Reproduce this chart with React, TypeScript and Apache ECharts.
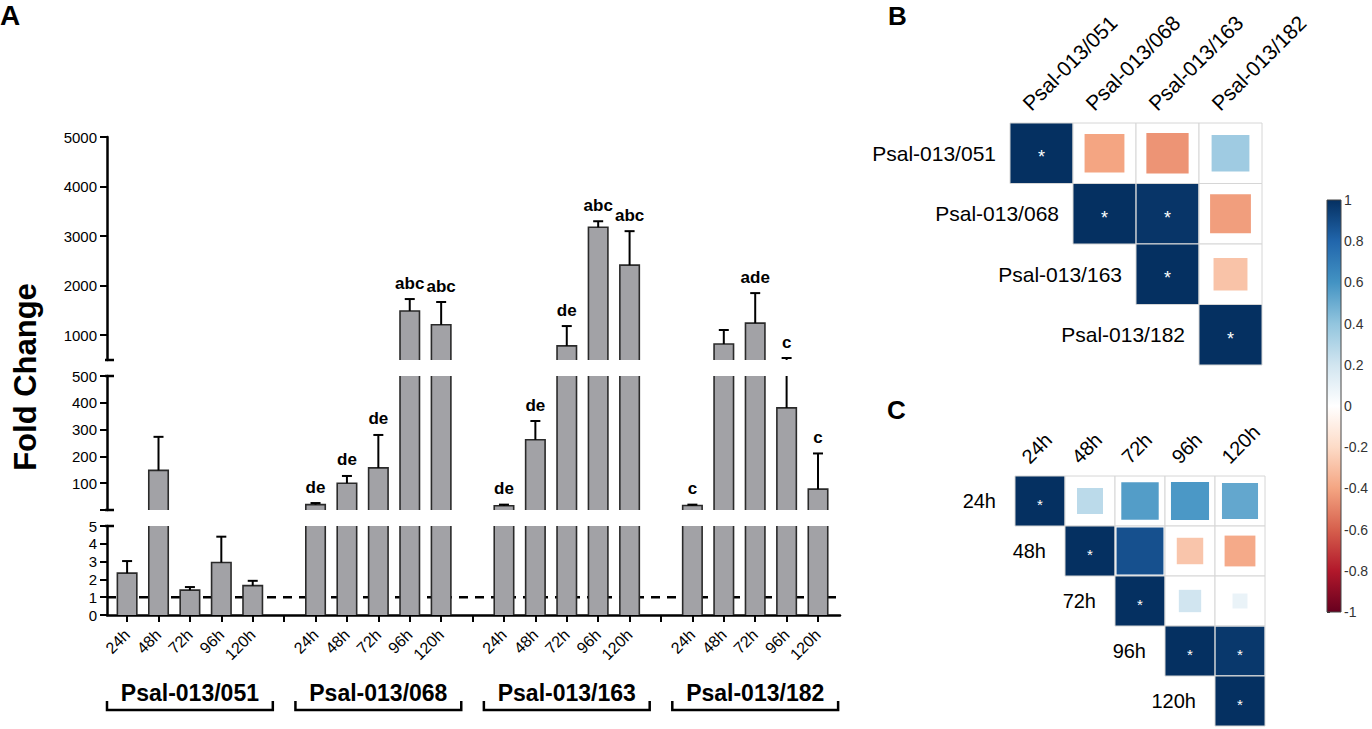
import React, { useEffect, useRef } from "react";
import * as echarts from "echarts";

// ---------------- data ----------------
const TIMES = ["24h", "48h", "72h", "96h", "120h"];
const GENES = ["Psal-013/051", "Psal-013/068", "Psal-013/163", "Psal-013/182"];

const MEAN_051 = [2.35, 148, 1.4, 2.95, 1.65];
const SD_051 = [0.68, 125, 0.17, 1.45, 0.27];
const MEAN_068 = [20, 100, 157, 1490, 1210];
const SD_068 = [6, 27, 123, 240, 460];
const MEAN_163 = [16, 262, 785, 3180, 2415];
const SD_163 = [4, 70, 400, 120, 685];
const MEAN_182 = [17, 822, 1245, 381, 78];
const SD_182 = [3, 283, 605, 159, 133];

const LETTERS_051 = ["", "", "", "", ""];
const LETTERS_068 = ["de", "de", "de", "abc", "abc"];
const LETTERS_163 = ["de", "de", "de", "abc", "abc"];
const LETTERS_182 = ["c", "", "ade", "c", "c"];

const Y_TOP_TICKS = [1000, 2000, 3000, 4000, 5000];
const REFERENCE_LEVEL = 1;

const CORR_B = [
  [1, -0.4, -0.45, 0.36],
  [null, 1, 0.98, -0.42],
  [null, null, 1, -0.29],
  [null, null, null, 1],
];
const SIG_B = [
  [1, 0, 0, 0],
  [0, 1, 1, 0],
  [0, 0, 1, 0],
  [0, 0, 0, 1],
];
const CORR_C = [
  [1, 0.27, 0.56, 0.58, 0.52],
  [null, 1, 0.88, -0.28, -0.38],
  [null, null, 1, 0.2, 0.09],
  [null, null, null, 1, 0.97],
  [null, null, null, null, 1],
];
const SIG_C = [
  [1, 0, 0, 0, 0],
  [0, 1, 0, 0, 0],
  [0, 0, 1, 0, 0],
  [0, 0, 0, 1, 1],
  [0, 0, 0, 0, 1],
];
const RDBU = [
  "#67001F", "#B2182B", "#D6604D", "#F4A582", "#FDDBC7", "#FFFFFF",
  "#D1E5F0", "#92C5DE", "#4393C3", "#2166AC", "#053061",
];

// ---------------- layout / style ----------------
const FONT = '"Liberation Sans", Arial, Helvetica, sans-serif';
const AX_LEFT = 107;
const AX_WIDTH = 733;
const X_MIN = -0.64;
const X_MAX = 22.7;
// drawFrom: values below it belong to the lower segment
const SEGS = [
  { min: 500, max: 5000, drawFrom: 500, top: 137, height: 223 },
  { min: 0, max: 500, drawFrom: 5, top: 376, height: 134 },
  { min: 0, max: 5, drawFrom: 0, top: 526, height: 89 },
];
const BAR_FILL = "#a2a2a6";
const BAR_STROKE = "#2a2a2a";

const GROUP_STEP = TIMES.length + 1;
const BAR_DATA: number[][] = [];
const MEANS = [MEAN_051, MEAN_068, MEAN_163, MEAN_182];
const SDS = [SD_051, SD_068, SD_163, SD_182];
const LETTERS = [LETTERS_051, LETTERS_068, LETTERS_163, LETTERS_182];
MEANS.forEach((m, g) =>
  m.forEach((v, i) => BAR_DATA.push([g * GROUP_STEP + i, v, v + SDS[g][i], g, i]))
);
const BAR_X = BAR_DATA.map((d) => d[0]);
const SLOT_TICKS = Array.from({ length: GENES.length * GROUP_STEP - 1 }, (_, k) => k);

function hexToRgb(h: string) {
  const n = parseInt(h.slice(1), 16);
  return [(n >> 16) & 255, (n >> 8) & 255, n & 255];
}
function corrColor(v: number) {
  const t = ((Math.max(-1, Math.min(1, v)) + 1) / 2) * (RDBU.length - 1);
  const i = Math.min(Math.floor(t), RDBU.length - 2);
  const f = t - i;
  const a = hexToRgb(RDBU[i]);
  const b = hexToRgb(RDBU[i + 1]);
  return `rgb(${a.map((x, k) => Math.round(x + (b[k] - x) * f)).join(",")})`;
}
function corrData(mat: (number | null)[][], sig: number[][]) {
  const out: number[][] = [];
  mat.forEach((row, r) =>
    row.forEach((v, c) => {
      if (v !== null && c >= r) out.push([c, r, v, sig[r][c]]);
    })
  );
  return out;
}

function makeBarRender(s: number) {
  const seg = SEGS[s];
  return (params: any, api: any) => {
    const x = api.value(0);
    const v = api.value(1);
    const e = api.value(2);
    const g = api.value(3);
    const i = api.value(4);
    const children: any[] = [];
    const slot = api.size([1, 0])[0];
    const bw = slot * 0.62;
    const base = api.coord([x, seg.min]);
    const cx = base[0];
    const yBase = base[1];
    if (v > seg.drawFrom) {
      const clipped = v > seg.max;
      const yTop = api.coord([x, Math.min(v, seg.max)])[1];
      const L = cx - bw / 2;
      const R = cx + bw / 2;
      children.push({
        type: "rect",
        shape: { x: L, y: yTop, width: bw, height: yBase - yTop },
        style: { fill: BAR_FILL },
      });
      const st = { stroke: BAR_STROKE, lineWidth: 1.6, fill: "none" };
      if (clipped) {
        children.push({ type: "line", shape: { x1: L, y1: yTop, x2: L, y2: yBase }, style: st });
        children.push({ type: "line", shape: { x1: R, y1: yTop, x2: R, y2: yBase }, style: st });
      } else {
        children.push({
          type: "polyline",
          shape: { points: [[L, yBase], [L, yTop], [R, yTop], [R, yBase]] },
          style: st,
        });
      }
    }
    if (e > seg.drawFrom && v < seg.max) {
      const y1 = api.coord([x, Math.max(v, seg.min)])[1];
      const y2 = api.coord([x, Math.min(e, seg.max)])[1];
      const es = { stroke: "#000", lineWidth: 2 };
      children.push({ type: "line", shape: { x1: cx, y1, x2: cx, y2 }, style: es });
      if (e <= seg.max) {
        children.push({ type: "line", shape: { x1: cx - 5, y1: y2, x2: cx + 5, y2 }, style: es });
        const txt = LETTERS[g][i];
        if (txt) {
          children.push({
            type: "text",
            x: cx,
            y: y2 - 16,
            style: {
              text: txt,
              fill: "#000",
              fontSize: 17,
              fontWeight: "bold",
              fontFamily: FONT,
              align: "center",
              verticalAlign: "middle",
            },
          });
        }
      }
    }
    return { type: "group", children };
  };
}

function makeCorrRender(labels: string[], fs: number, starFs: number, rowGap: number) {
  return (params: any, api: any) => {
    const c = api.value(0);
    const r = api.value(1);
    const val = api.value(2);
    const sig = api.value(3);
    const p = api.coord([c, r]);
    const sz = api.size([1, 1]);
    const w = sz[0];
    const h = sz[1];
    const k = Math.sqrt(Math.abs(val));
    const children: any[] = [
      { type: "rect", shape: { x: p[0] - w / 2, y: p[1] - h / 2, width: w, height: h }, style: { fill: "#fff" } },
      {
        type: "rect",
        shape: { x: p[0] - (k * w) / 2, y: p[1] - (k * h) / 2, width: k * w, height: k * h },
        style: { fill: corrColor(val) },
      },
      {
        type: "rect",
        shape: { x: p[0] - w / 2, y: p[1] - h / 2, width: w, height: h },
        style: { fill: "none", stroke: "#d6d6d6", lineWidth: 1 },
      },
    ];
    if (sig) {
      children.push({
        type: "text",
        x: p[0],
        y: p[1] + starFs * 0.22,
        style: { text: "*", fill: "#fff", fontSize: starFs, fontFamily: FONT, align: "center", verticalAlign: "middle" },
      });
    }
    if (c === r) {
      children.push({
        type: "text",
        x: p[0] - w / 2 - rowGap,
        y: p[1],
        style: { text: labels[r], fill: "#000", fontSize: fs, fontFamily: FONT, align: "right", verticalAlign: "middle" },
      });
    }
    if (r === 0) {
      children.push({
        type: "text",
        x: p[0] - 8,
        y: p[1] - h / 2 - 9,
        rotation: Math.PI / 4,
        style: { text: labels[c], fill: "#000", fontSize: fs, fontFamily: FONT, align: "left", verticalAlign: "bottom" },
      });
    }
    return { type: "group", children };
  };
}

export default function App() {
  const ref = useRef<HTMLDivElement>(null);
  useEffect(() => {
    document.body.style.margin = "0";
    if (!ref.current) return;
    const chart = echarts.init(ref.current, undefined, { renderer: "svg" });

    const axLine = { show: true, onZero: false, lineStyle: { color: "#000", width: 2.5 } };
    const axTick = { show: true, length: 7, lineStyle: { color: "#000", width: 2 } };
    const axLabel = { fontSize: 15, color: "#000", margin: 10, fontFamily: FONT, formatter: (v: number) => String(v) };

    const grids: any[] = SEGS.map((s) => ({
      left: AX_LEFT, top: s.top, width: AX_WIDTH, height: s.height, containLabel: false, outerBoundsMode: "none",
    }));
    grids.push({ left: 1010, top: 123, width: 252, height: 242, outerBoundsMode: "none" });
    grids.push({ left: 1015, top: 476, width: 250, height: 250, outerBoundsMode: "none" });
    grids.push({ left: 1327, top: 200, width: 14, height: 412, outerBoundsMode: "none" });

    const xBase = { type: "value", min: X_MIN, max: X_MAX, splitLine: { show: false } };

    const caps: any[] = [];
    [SEGS[0].top + SEGS[0].height, SEGS[1].top, SEGS[1].top + SEGS[1].height, SEGS[2].top].forEach((y) =>
      caps.push({
        type: "line",
        shape: { x1: AX_LEFT - 2, y1: y, x2: AX_LEFT + 7, y2: y },
        style: { stroke: "#000", lineWidth: 2.5 },
      })
    );

    const axisBottom = SEGS[2].top + SEGS[2].height;

    const option: any = {
      animation: false,
      backgroundColor: "#fff",
      grid: grids,
      xAxis: [
        { ...xBase, gridIndex: 0, show: false },
        { ...xBase, gridIndex: 1, show: false },
        {
          ...xBase,
          gridIndex: 2,
          axisLine: axLine,
          axisTick: { ...axTick, customValues: SLOT_TICKS },
          axisLabel: {
            customValues: BAR_X,
            rotate: 45,
            fontSize: 16,
            color: "#000",
            margin: 17,
            fontFamily: FONT,
            formatter: (v: number) => TIMES[Math.round(v) % GROUP_STEP] || "",
          },
        },
        { type: "category", gridIndex: 3, data: GENES, show: false },
        { type: "category", gridIndex: 4, data: TIMES, show: false },
        { type: "value", gridIndex: 5, min: 0, max: 1, show: false },
      ],
      yAxis: [
        {
          type: "value", gridIndex: 0, min: SEGS[0].min, max: SEGS[0].max,
          axisLine: axLine,
          axisTick: { ...axTick, customValues: Y_TOP_TICKS },
          axisLabel: { ...axLabel, customValues: Y_TOP_TICKS },
          splitLine: { show: false },
        },
        {
          type: "value", gridIndex: 1, min: SEGS[1].min, max: SEGS[1].max, interval: 100,
          axisLine: axLine, axisTick: axTick,
          axisLabel: { ...axLabel, formatter: (v: number) => (v === 0 ? "" : String(v)) },
          splitLine: { show: false },
        },
        {
          type: "value", gridIndex: 2, min: SEGS[2].min, max: SEGS[2].max, interval: 1,
          axisLine: axLine, axisTick: axTick, axisLabel: axLabel, splitLine: { show: false },
        },
        { type: "category", gridIndex: 3, data: GENES, inverse: true, show: false },
        { type: "category", gridIndex: 4, data: TIMES, inverse: true, show: false },
        {
          type: "value", gridIndex: 5, min: -1, max: 1, interval: 0.2, position: "right",
          axisLine: { show: false },
          axisTick: { show: true, length: 3, lineStyle: { color: "#333", width: 1 } },
          axisLabel: {
            fontSize: 14, color: "#333", margin: 3, fontFamily: FONT,
            formatter: (v: number) => String(Math.round(v * 10) / 10),
          },
          splitLine: { show: false },
        },
      ],
      series: [
        {
          type: "line", xAxisIndex: 2, yAxisIndex: 2, silent: true, z: 1,
          data: [[X_MIN, REFERENCE_LEVEL], [X_MAX, REFERENCE_LEVEL]],
          symbol: "none",
          lineStyle: { type: [9, 7], width: 2.5, color: "#000" },
        },
        ...SEGS.map((_, s) => ({
          type: "custom", xAxisIndex: s, yAxisIndex: s, silent: true, z: 3,
          data: BAR_DATA, renderItem: makeBarRender(s),
        })),
        {
          type: "custom", xAxisIndex: 2, yAxisIndex: 2, silent: true, z: 3,
          data: GENES.map((_, g) => [g * GROUP_STEP, g * GROUP_STEP + TIMES.length - 1, g]),
          renderItem: (params: any, api: any) => {
            const a = api.coord([api.value(0) + X_MIN, 0])[0];
            const b = api.coord([api.value(1) - X_MIN, 0])[0];
            const yb = axisBottom;
            return {
              type: "group",
              children: [
                {
                  type: "polyline",
                  shape: { points: [[a, yb + 86], [a, yb + 95], [b, yb + 95], [b, yb + 86]] },
                  style: { stroke: "#000", lineWidth: 2.5, fill: "none" },
                },
                {
                  type: "text",
                  x: (a + b) / 2,
                  y: yb + 78,
                  style: {
                    text: GENES[api.value(2)], fill: "#000", fontSize: 23, fontWeight: "bold",
                    fontFamily: FONT, align: "center", verticalAlign: "middle",
                  },
                },
              ],
            };
          },
        },
        {
          type: "custom", xAxisIndex: 3, yAxisIndex: 3, silent: true,
          data: corrData(CORR_B, SIG_B), renderItem: makeCorrRender(GENES, 21, 18, 14),
        },
        {
          type: "custom", xAxisIndex: 4, yAxisIndex: 4, silent: true,
          data: corrData(CORR_C, SIG_C), renderItem: makeCorrRender(TIMES, 20, 15, 19),
        },
        {
          type: "custom", xAxisIndex: 5, yAxisIndex: 5, silent: true,
          data: [[0.5, 0]],
          renderItem: (params: any) => {
            const cs = params.coordSys;
            const stops = RDBU.map((c, k) => ({ offset: 1 - k / (RDBU.length - 1), color: c })).reverse();
            return {
              type: "rect",
              shape: { x: cs.x, y: cs.y, width: cs.width, height: cs.height },
              style: {
                fill: new echarts.graphic.LinearGradient(0, 0, 0, 1, stops),
                stroke: "#444",
                lineWidth: 1,
              },
            };
          },
        },
      ],
      graphic: [
        ...caps,
        {
          type: "text", x: 25, y: 377, rotation: Math.PI / 2,
          style: { text: "Fold Change", fill: "#000", fontSize: 31, fontWeight: "bold", fontFamily: FONT, align: "center", verticalAlign: "middle" },
        },
        { type: "text", x: 0, y: 15, style: { text: "A", fill: "#000", fontSize: 28, fontWeight: "bold", fontFamily: FONT, align: "left", verticalAlign: "middle" } },
        { type: "text", x: 888, y: 16, style: { text: "B", fill: "#000", fontSize: 26, fontWeight: "bold", fontFamily: FONT, align: "left", verticalAlign: "middle" } },
        { type: "text", x: 887, y: 410, style: { text: "C", fill: "#000", fontSize: 26, fontWeight: "bold", fontFamily: FONT, align: "left", verticalAlign: "middle" } },
      ],
    };
    chart.setOption(option);
    return () => chart.dispose();
  }, []);
  return <div ref={ref} style={{ width: 1372, height: 729 }} />;
}
